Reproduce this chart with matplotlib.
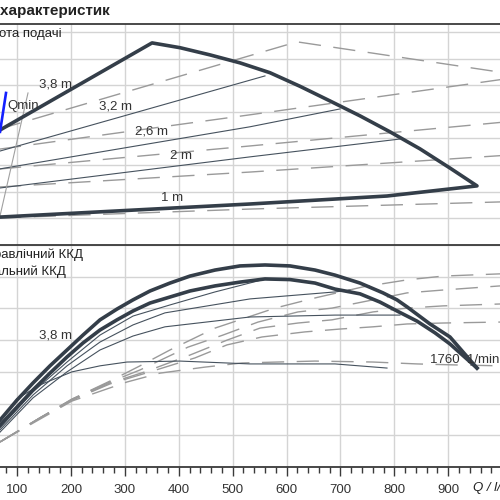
import matplotlib
matplotlib.use('Agg')
from matplotlib import pyplot as plt
from matplotlib.ticker import MultipleLocator

plt.rcParams['font.family'] = ['Liberation Sans', 'DejaVu Sans']

# top panel - head, operating range (thick polygon)
range_q = [60, 350.5, 402.4, 458.0, 513.7, 569.3, 625.0, 680.6, 736.3, 791.9, 847.6, 903.2,
           953.3, 786.4, 532.3, 60]
range_h = [4.22, 7.59, 7.41, 7.14, 6.84, 6.47, 5.96, 5.41, 4.85, 4.25, 3.61, 2.89,
           2.22, 1.84, 1.54, 1.04]

# thin solid head lines (inside the range)
h32_q = [60, 560]
h32_h = [3.48, 6.35]
h26_q = [60, 532.3, 699.2]
h26_h = [2.83, 4.44, 5.11]
h20_q = [60, 532.3, 810.5]
h20_h = [2.12, 3.31, 3.98]

# dashed head lines
d38_q = [60, 619.4, 1000]
d38_h = [4.31, 7.63, 6.48]
d32_q = [60, 532.3, 1000]
d32_h = [3.58, 4.89, 6.22]
d26_q = [60, 532.3, 1000]
d26_h = [2.84, 3.72, 4.61]
d20_q = [60, 532.3, 1000]
d20_h = [2.17, 2.74, 3.36]
d10_q = [60, 532.3, 1000]
d10_h = [1.01, 1.35, 1.62]

qmin_q = [68.5, 79.6]
qmin_h = [4.25, 5.71]
limit_q = [120.4, 68.5]
limit_h = [5.71, 1.09]

top_labels = ['3,8 m', '3,2 m', '2,6 m', '2 m', '1 m']
top_label_q = [170.5, 281.8, 348.6, 404.2, 387.5]
top_label_h = [6.02, 5.19, 4.25, 3.35, 1.77]

# bottom panel - efficiency
hyd_q = [68.5, 100.0, 129.7, 161.2, 192.8, 222.4, 254.0, 285.5, 315.2, 346.7, 383.8, 420.9, 467.3,
         513.7, 560.0, 606.4, 652.8, 689.9, 736.3, 779.0, 804.9, 823.5, 866.1, 903.2, 953.3]
hyd_eta = [14.8, 21.1, 26.5, 31.9, 36.9, 41.6, 46.4, 49.8, 52.7, 55.5, 58.0, 60.2, 62.1,
           63.4, 63.7, 63.4, 62.1, 60.5, 58.0, 54.9, 52.7, 50.5, 45.1, 41.0, 31.2]
tot_q = [68.5, 100.0, 129.7, 161.2, 192.8, 222.4, 254.0, 285.5, 315.2, 346.7, 383.8, 420.9, 467.3,
         513.7, 560.0, 606.4, 652.8, 689.9, 736.3, 773.4, 804.9, 842.0, 875.4, 903.2, 953.3]
tot_eta = [13.2, 18.9, 24.3, 29.6, 34.7, 39.1, 43.2, 46.4, 49.2, 51.7, 53.6, 55.5, 57.1,
           58.3, 59.3, 59.1, 58.0, 56.1, 54.6, 52.0, 49.2, 46.0, 42.3, 38.8, 31.2]

t1_q = [68.5, 129.7, 192.8, 254.0, 315.2, 383.8, 467.3, 554.5]
t1_eta = [12.3, 23.7, 33.1, 41.6, 47.6, 51.1, 55.2, 59.0]
t2_q = [68.5, 129.7, 192.8, 254.0, 315.2, 374.5, 532.2, 689.9, 717.7]
t2_eta = [11.7, 22.7, 31.9, 39.4, 44.8, 48.6, 53.0, 55.2, 55.8]
t3_q = [68.5, 129.7, 192.8, 254.0, 315.2, 374.5, 532.2, 689.9, 810.5]
t3_eta = [11.0, 21.8, 30.0, 36.9, 41.3, 44.2, 47.3, 47.9, 47.9]
t4_q = [68.5, 100, 142.7, 202.0, 254.0, 304.0, 402.4, 532.2, 689.9, 786.4]
t4_eta = [14.5, 21.5, 25.9, 30.0, 31.9, 33.1, 33.4, 32.5, 32.5, 31.2]

da_q = [68.5, 142.7, 202.0, 272.5, 328.2, 383.8, 467.3, 578.6, 652.8, 741.8, 823.5, 890.2, 996]
da_eta = [7.9, 15.5, 21.4, 27.1, 31.9, 36.9, 43.8, 50.1, 53.3, 56.8, 59.0, 60.2, 60.9]
db_q = [68.5, 142.7, 202.0, 272.5, 328.2, 417.2, 482.1, 547.1, 621.3, 684.3, 760.4, 823.5, 890.2, 996]
db_eta = [7.9, 15.5, 21.4, 26.8, 30.6, 37.8, 41.6, 45.7, 48.9, 50.1, 52.7, 54.9, 55.8, 57.1]
dc_q = [68.5, 142.7, 202.0, 272.5, 337.4, 420.9, 489.5, 550.8, 621.3, 684.3, 760.4, 823.5, 890.2, 996]
dc_eta = [7.9, 15.5, 21.1, 26.5, 30.0, 35.3, 40.0, 43.8, 45.4, 46.4, 48.9, 50.1, 50.8, 51.4]
dd_q = [68.5, 142.7, 202.0, 272.5, 346.7, 430.2, 489.5, 554.5, 634.2, 699.2, 760.4, 823.5, 890.2, 996]
dd_eta = [7.9, 15.5, 21.1, 26.2, 30.0, 34.4, 38.5, 41.0, 42.6, 43.5, 44.2, 45.1, 45.4, 45.7]
de_q = [68.5, 142.7, 202.0, 304.0, 365.3, 448.7, 517.4, 584.2, 652.8, 760.4, 842.0, 908.8, 996]
de_eta = [7.9, 15.1, 20.8, 26.8, 29.6, 31.5, 32.8, 33.1, 33.4, 33.1, 32.5, 32.2, 31.9]

DARK = '#343e49'
THIN = '#46525e'
DASH = '#9a9a9a'
GRID = '#d4d4d4'
dash_style = (0, (16, 9))

fig = plt.figure(figsize=(5, 5), dpi=100)

ax1 = fig.add_axes([0, 0.51, 1, 0.442])
ax2 = fig.add_axes([0, 0.066, 1, 0.444])

for ax in (ax1, ax2):
    ax.set_xlim(68.46, 996)
    ax.xaxis.set_major_locator(MultipleLocator(100))
    ax.xaxis.set_minor_locator(MultipleLocator(20))
    ax.grid(True, which='major', color=GRID, linewidth=1.0)
    ax.set_axisbelow(True)
    for side in ('left', 'right'):
        ax.spines[side].set_visible(False)
    ax.spines['top'].set_color('#3a3a3a')
    ax.spines['top'].set_linewidth(1.3)
    ax.tick_params(axis='y', left=False, labelleft=False)

ax1.set_ylim(0, 8.3)
ax1.yaxis.set_major_locator(MultipleLocator(1))
ax1.spines['bottom'].set_visible(False)
ax1.tick_params(axis='x', which='both', bottom=False, labelbottom=False)

# dashed lines
for q, h in [(d38_q, d38_h), (d32_q, d32_h), (d26_q, d26_h), (d20_q, d20_h), (d10_q, d10_h)]:
    ax1.plot(q, h, color=DASH, linewidth=1.0, linestyle=dash_style)
for q, h in [(h32_q, h32_h), (h26_q, h26_h), (h20_q, h20_h)]:
    ax1.plot(q, h, color=THIN, linewidth=0.8)
ax1.plot(limit_q, limit_h, color='#a0a0a0', linewidth=0.8)
ax1.plot(range_q, range_h, color=DARK, linewidth=2.6, solid_joinstyle='round')
ax1.plot(qmin_q, qmin_h, color='#1420ff', linewidth=1.9)
for txt, q, h in zip(top_labels, top_label_q, top_label_h):
    ax1.text(q, h, txt, fontsize=9.5, color='#333333', ha='center', va='center')
ax1.text(81.5, 5.23, 'Qmin', fontsize=9.5, color='#333333', ha='left', va='center')

ax2.set_ylim(0, 70)
ax2.yaxis.set_major_locator(MultipleLocator(10))
ax2.spines['bottom'].set_color('#3a3a3a')
ax2.spines['bottom'].set_linewidth(1.3)
ax2.tick_params(axis='x', which='major', direction='out', length=6.5, width=1.0,
                color='#3a3a3a', labelsize=9.5, labelcolor='#333333', pad=5.5)
ax2.tick_params(axis='x', which='minor', direction='out', length=4.5, width=1.0, color='#3a3a3a')

for q, e in [(da_q, da_eta), (db_q, db_eta), (dc_q, dc_eta), (dd_q, dd_eta), (de_q, de_eta)]:
    ax2.plot(q, e, color=DASH, linewidth=1.0, linestyle=dash_style)
for q, e in [(t1_q, t1_eta), (t2_q, t2_eta), (t3_q, t3_eta), (t4_q, t4_eta)]:
    ax2.plot(q, e, color=THIN, linewidth=0.8)
ax2.plot(tot_q, tot_eta, color=DARK, linewidth=2.6, solid_joinstyle='round')
ax2.plot(hyd_q, hyd_eta, color=DARK, linewidth=2.6, solid_joinstyle='round')
ax2.text(170.5, 41.6, '3,8 m', fontsize=9.5, color='#333333', ha='center', va='center')
ax2.text(866, 33.7, '1760  1/min', fontsize=9.5, color='#333333', ha='left', va='center')

# texts cut by the crop edges, as in the source
fig.text(0.22, 0.978, 'Криві характеристик', fontsize=11, fontweight='bold',
         color='#222222', ha='right', va='center')
fig.text(0.124, 0.932, 'Висота подачі', fontsize=9.5, color='#222222', ha='right', va='center')
fig.text(0.166, 0.49, 'Гідравлічний ККД', fontsize=9.5, color='#222222', ha='right', va='center')
fig.text(0.132, 0.456, 'Загальний ККД', fontsize=9.5, color='#222222', ha='right', va='center')
fig.text(0.946, 0.024, 'Q / l/s', fontsize=9.5, style='italic', color='#222222',
         ha='left', va='center')

fig.savefig('out.png', dpi=100)
